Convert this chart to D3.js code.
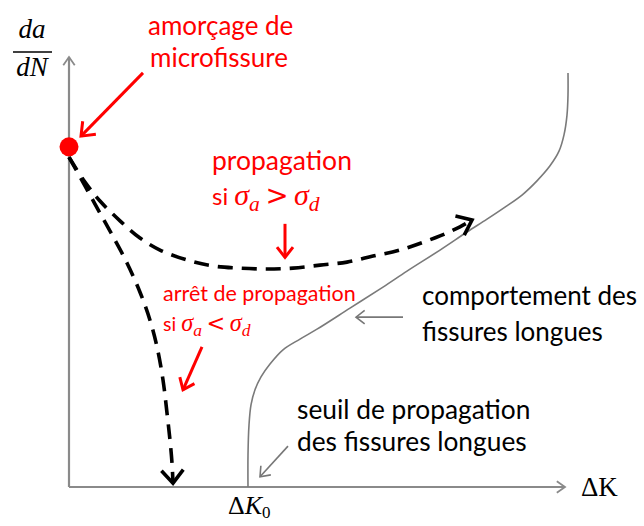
<!DOCTYPE html>
<html><head><meta charset="utf-8">
<script src="https://cdn.jsdelivr.net/npm/d3@7"></script>
<style>body{margin:0;background:#fff}svg{display:block}</style>
</head><body>
<svg id="c" width="644" height="526"></svg>
<script>
// Data (schematic units: ΔK and da/dN both on 0..100)
const propX = [0, 3.2, 6.2, 10.2, 14.2, 18.2, 23.6, 28.8, 34.2, 39.6, 44.8, 50.2, 55.6, 60.8, 66.2, 74.2, 78.2, 80.6];
const propY = [76.7, 70.9, 66.5, 61.9, 57.9, 55.1, 52.8, 51.4, 50.9, 50.7, 50.9, 51.6, 52.3, 53.7, 55.1, 58.4, 60.5, 62.1];
const arretX = [0, 3.2, 6.2, 9.2, 11.6, 14.2, 16.2, 17.6, 18.8, 19.6, 20.2, 20.6, 20.8];
const arretY = [76.7, 70, 63.7, 57.4, 52.1, 45.3, 38.8, 32.6, 24.9, 17.2, 10.9, 5.6, 0.9];
const longX = [35.8, 35.8, 36, 36.4, 37.2, 38.4, 40.2, 42.8, 46.2, 49.6, 56.2, 62.8, 67.6, 74.2, 79.6, 83.6, 87.2, 90.6, 93.6, 96.2, 98, 99, 99.6, 99.8, 99.8];
const longY = [0, 7.4, 14.4, 19.1, 22.6, 25.6, 28.6, 31.9, 34.4, 36.7, 41.6, 46.5, 50.2, 55.1, 59.3, 62.3, 65.1, 67.9, 71.2, 74.7, 78.1, 81.9, 86.5, 91.2, 96.3];
const startPoint = [0, 79.1];
const xLabel = "ΔK";
const thresholdLabel = "K";

const svg = d3.select("#c");
const x = d3.scaleLinear().domain([0, 100]).range([69, 569]);
const y = d3.scaleLinear().domain([0, 100]).range([487, 57]);
const line = d3.line().x(d => x(d[0])).y(d => y(d[1])).curve(d3.curveCatmullRom.alpha(0.5));
const zip = (a, b) => a.map((v, i) => [v, b[i]]);

const gray = "#8a8a8a";
// axes
svg.append("line").attr("x1", x(0)).attr("y1", y(0)).attr("x2", x(99.2)).attr("y2", y(0)).attr("stroke", gray).attr("stroke-width", 2.2);
svg.append("line").attr("x1", x(0)).attr("y1", y(0)).attr("x2", x(0)).attr("y2", y(100)).attr("stroke", gray).attr("stroke-width", 2.2);
function chevron(tip, angleDeg, len, spread, color, w) {
  const a = angleDeg * Math.PI / 180, s = spread * Math.PI / 180;
  const p1 = [tip[0] - len * Math.cos(a - s), tip[1] - len * Math.sin(a - s)];
  const p2 = [tip[0] - len * Math.cos(a + s), tip[1] - len * Math.sin(a + s)];
  svg.append("path").attr("d", `M${p1[0]},${p1[1]}L${tip[0]},${tip[1]}L${p2[0]},${p2[1]}`)
    .attr("fill", "none").attr("stroke", color).attr("stroke-width", w).attr("stroke-linejoin", "miter").attr("stroke-linecap", "butt");
}
chevron([x(0), y(100)], -90, 10, 35, gray, 1.8);
chevron([x(99.2), y(0)], 0, 10, 35, gray, 1.8);

// long crack curve
svg.append("path").attr("d", line(zip(longX, longY))).attr("fill", "none").attr("stroke", "#7a7a7a").attr("stroke-width", 1.6);

// dashed curves
const propPts = zip(propX, propY), arretPts = zip(arretX, arretY);
svg.append("path").attr("d", line(propPts)).attr("fill", "none").attr("stroke", "#000").attr("stroke-width", 3.6).attr("stroke-dasharray", "15,9");
svg.append("path").attr("d", line(arretPts)).attr("fill", "none").attr("stroke", "#000").attr("stroke-width", 3.6).attr("stroke-dasharray", "15,9");
function endAngle(pts) {
  const a = pts[pts.length - 2], b = pts[pts.length - 1];
  return Math.atan2(y(b[1]) - y(a[1]), x(b[0]) - x(a[0])) * 180 / Math.PI;
}
chevron([x(propX[propX.length - 1]), y(propY[propY.length - 1])], endAngle(propPts) + 5, 17, 38, "#000", 3.6);
chevron([x(arretX[arretX.length - 1]), y(arretY[arretY.length - 1])], endAngle(arretPts), 17, 40, "#000", 3.6);

// red dot
svg.append("circle").attr("cx", x(startPoint[0])).attr("cy", y(startPoint[1])).attr("r", 9.5).attr("fill", "#ff0000");

// annotation arrows
function arrow(from, to, color, w, len, spread) {
  svg.append("line").attr("x1", x(from[0])).attr("y1", y(from[1])).attr("x2", x(to[0])).attr("y2", y(to[1]))
    .attr("stroke", color).attr("stroke-width", w);
  const ang = Math.atan2(y(to[1]) - y(from[1]), x(to[0]) - x(from[0])) * 180 / Math.PI;
  chevron([x(to[0]), y(to[1])], ang, len, spread, color, w);
}
const red = "#ff0000";
arrow([14.8, 96.3], [2.4, 81.6], red, 3, 15, 38);
arrow([43.2, 61.2], [43.2, 53.4], red, 3, 13, 38);
arrow([26.6, 32.6], [22.8, 22.6], red, 3, 13, 38);
arrow([66.8, 39.5], [57.4, 39.5], "#777", 1.6, 11, 38);
arrow([43.8, 9.5], [38.2, 2.4], "#777", 1.6, 11, 38);

// texts
const sans = "Lato, 'Open Sans', sans-serif";
const serif = "'Liberation Serif', 'DejaVu Serif', serif";
function txt(xp, yp, s, size, color, family) {
  return svg.append("text").attr("x", xp).attr("y", yp).attr("font-family", family || sans).attr("font-size", size).attr("fill", color).text(s);
}
txt(148, 35, "amorçage de", 26, red);
txt(150, 67, "microfissure", 26, red);
txt(212, 170, "propagation", 26.5, red);
txt(163, 301, "arrêt de propagation", 21.5, red);
txt(422, 305, "comportement des", 26, "#000");
txt(422, 341, "fissures longues", 26, "#000");
txt(297, 419, "seuil de propagation", 26.3, "#000");
txt(297, 451, "des fissures longues", 26.3, "#000");

function sigmaLine(xp, yp, size, op) {
  const t = svg.append("text").attr("x", xp).attr("y", yp).attr("font-family", sans).attr("font-size", size).attr("fill", red);
  const big = size * 1.25, sub = size * 0.9;
  t.append("tspan").text("si ");
  t.append("tspan").attr("font-family", serif).attr("font-style", "italic").attr("font-size", big).text("σ");
  t.append("tspan").attr("font-family", serif).attr("font-style", "italic").attr("font-size", sub).attr("dy", size * 0.25).text("a");
  t.append("tspan").attr("font-family", "'DejaVu Sans', sans-serif").attr("font-size", size * 1.15).attr("dy", -size * 0.25).text("\u2009" + op + "\u2009");
  t.append("tspan").attr("font-family", serif).attr("font-style", "italic").attr("font-size", big).text("σ");
  t.append("tspan").attr("font-family", serif).attr("font-style", "italic").attr("font-size", sub).attr("dy", size * 0.25).text("d");
}
sigmaLine(212, 205, 24, ">");
sigmaLine(163, 331, 19.5, "<");

// axis labels
svg.append("text").attr("x", 581).attr("y", 496).attr("font-family", serif).attr("font-size", 27).attr("fill", "#000").text(xLabel);
const k0 = svg.append("text").attr("x", 228).attr("y", 514).attr("font-family", serif).attr("font-size", 26).attr("fill", "#000");
k0.append("tspan").text("Δ");
k0.append("tspan").attr("font-style", "italic").text(thresholdLabel);
k0.append("tspan").attr("font-size", 17).attr("dy", 4).text("0");
// da/dN fraction
svg.append("text").attr("x", 32).attr("y", 38).attr("text-anchor", "middle").attr("font-family", serif).attr("font-style", "italic").attr("font-size", 27).attr("fill", "#000").text("da");
svg.append("line").attr("x1", 13).attr("x2", 52).attr("y1", 52).attr("y2", 52).attr("stroke", "#000").attr("stroke-width", 1.4);
svg.append("text").attr("x", 32).attr("y", 76).attr("text-anchor", "middle").attr("font-family", serif).attr("font-style", "italic").attr("font-size", 27).attr("fill", "#000").text("dN");
</script>
</body></html>
